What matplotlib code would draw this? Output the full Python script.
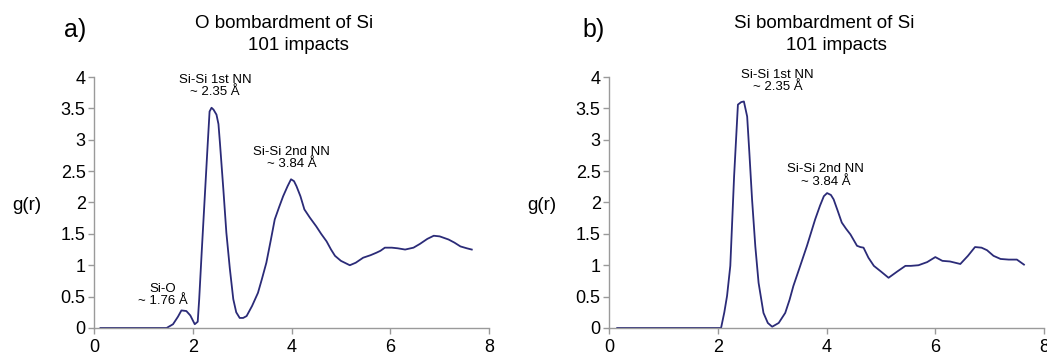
import matplotlib
matplotlib.use('Agg')
import matplotlib.pyplot as plt
from matplotlib.ticker import FormatStrFormatter

plt.rcParams['font.family'] = ['Liberation Sans', 'DejaVu Sans']

# panel a: O bombardment of Si
r_a = [0.13, 0.5, 1.0, 1.47, 1.6, 1.7, 1.77, 1.87, 1.95, 2.04, 2.1, 2.13, 2.18, 2.24, 2.3,
       2.34, 2.38, 2.42, 2.48, 2.52, 2.55, 2.62, 2.68, 2.75, 2.82, 2.88, 2.95, 3.02, 3.09, 3.2, 3.32,
       3.4, 3.49, 3.58, 3.66, 3.75, 3.83, 3.92, 3.99, 4.05, 4.1, 4.18, 4.26, 4.37, 4.5,
       4.6, 4.71, 4.8, 4.88, 5.0, 5.18, 5.3, 5.45, 5.6, 5.72, 5.8, 5.89, 6.03, 6.15, 6.3,
       6.47, 6.6, 6.75, 6.88, 7.0, 7.18, 7.3, 7.42, 7.55, 7.65]
g_a = [0.0, 0.0, 0.0, 0.0, 0.06, 0.18, 0.28, 0.27, 0.2, 0.06, 0.1, 0.46, 1.2, 2.05, 2.9,
       3.45, 3.51, 3.48, 3.40, 3.25, 2.95, 2.2, 1.52, 0.95, 0.46, 0.25, 0.16, 0.16, 0.19, 0.35, 0.56,
       0.78, 1.04, 1.4, 1.73, 1.93, 2.10, 2.26, 2.37, 2.34, 2.26, 2.1, 1.89, 1.76, 1.62,
       1.5, 1.38, 1.25, 1.15, 1.07, 1.00, 1.04, 1.12, 1.16, 1.20, 1.23, 1.28, 1.28, 1.27, 1.25,
       1.28, 1.34, 1.42, 1.47, 1.46, 1.41, 1.36, 1.30, 1.27, 1.25]

# panel b: Si bombardment of Si
r_b = [0.15, 0.5, 1.0, 1.5, 1.95, 2.06, 2.12, 2.17, 2.23, 2.3, 2.37, 2.43, 2.48, 2.54,
       2.58, 2.63, 2.69, 2.75, 2.84, 2.92, 3.0, 3.12, 3.24, 3.32, 3.39, 3.5, 3.64, 3.79,
       3.88, 3.95, 4.01, 4.08, 4.13, 4.2, 4.28, 4.36, 4.44, 4.56, 4.62, 4.68, 4.77, 4.87,
       5.0, 5.14, 5.3, 5.45, 5.55, 5.69, 5.85, 6.0, 6.13, 6.27, 6.46, 6.6, 6.73, 6.85,
       6.95, 7.07, 7.2, 7.35, 7.5, 7.63]
g_b = [0.0, 0.0, 0.0, 0.0, 0.0, 0.0, 0.25, 0.51, 0.99, 2.42, 3.56, 3.6, 3.61, 3.37,
       2.8, 2.05, 1.3, 0.72, 0.24, 0.08, 0.02, 0.08, 0.24, 0.45, 0.67, 0.95, 1.31, 1.73,
       1.95, 2.10, 2.15, 2.12, 2.05, 1.88, 1.68, 1.58, 1.49, 1.31, 1.29, 1.28, 1.12, 0.99,
       0.9, 0.80, 0.9, 0.99, 0.99, 1.00, 1.05, 1.13, 1.07, 1.06, 1.02, 1.15, 1.29, 1.28,
       1.24, 1.15, 1.1, 1.09, 1.09, 1.01]

titles = ['O bombardment of Si', 'Si bombardment of Si']
labels = ['a)', 'b)']

line_color = '#2b2b78'
spine_color = '#9a9a9a'

fig = plt.figure(figsize=(10.47, 3.56), dpi=100)
ax_a = fig.add_axes([0.0898, 0.0787, 0.3773, 0.705])
ax_b = fig.add_axes([0.5817, 0.0787, 0.4155, 0.705])

for ax, r, g in [(ax_a, r_a, g_a), (ax_b, r_b, g_b)]:
    ax.plot(r, g, color=line_color, lw=1.3, solid_joinstyle='round')
    ax.set_xlim(0, 8)
    ax.set_ylim(0, 4)
    ax.set_xticks([0, 2, 4, 6, 8])
    ax.set_yticks([0, 0.5, 1, 1.5, 2, 2.5, 3, 3.5, 4])
    ax.yaxis.set_major_formatter(FormatStrFormatter('%g'))
    for s in ['top', 'right']:
        ax.spines[s].set_visible(False)
    for s in ['left', 'bottom']:
        ax.spines[s].set_color(spine_color)
        ax.spines[s].set_linewidth(1.0)
    ax.tick_params(axis='both', colors=spine_color, labelcolor='black', labelsize=13,
                   length=4, width=1.0)
    ax.tick_params(axis='y', pad=2)
    ax.tick_params(axis='x', pad=4)
    ax.patch.set_visible(False)

# titles and panel labels (figure pixel coords)
W, H = 1047, 356
def ftext(px, py, s, size, **kw):
    fig.text(px / W, 1 - py / H, s, fontsize=size, ha='center', va='center', **kw)

ftext(75, 30, labels[0], 18)
ftext(284, 23, titles[0], 13.5)
ftext(298, 45, '101 impacts', 13.5)
ftext(27, 205, 'g(r)', 13.5)

ftext(594, 30, labels[1], 18)
ftext(824, 24, titles[1], 13.5)
ftext(836, 46, '101 impacts', 13.5)
ftext(542, 205, 'g(r)', 13.5)

# peak annotations
ann = dict(ha='center', va='center', fontsize=9.5, linespacing=1.05)
ax_a.text(2.45, 3.86, 'Si-Si 1st NN\n~ 2.35 Å', **ann)
ax_a.text(4.0, 2.71, 'Si-Si 2nd NN\n~ 3.84 Å', **ann)
ax_a.text(1.4, 0.53, 'Si-O\n~ 1.76 Å', **ann)

ax_b.text(3.1, 3.94, 'Si-Si 1st NN\n~ 2.35 Å', **ann)
ax_b.text(3.98, 2.43, 'Si-Si 2nd NN\n~ 3.84 Å', **ann)

fig.savefig('out.png', dpi=100)
